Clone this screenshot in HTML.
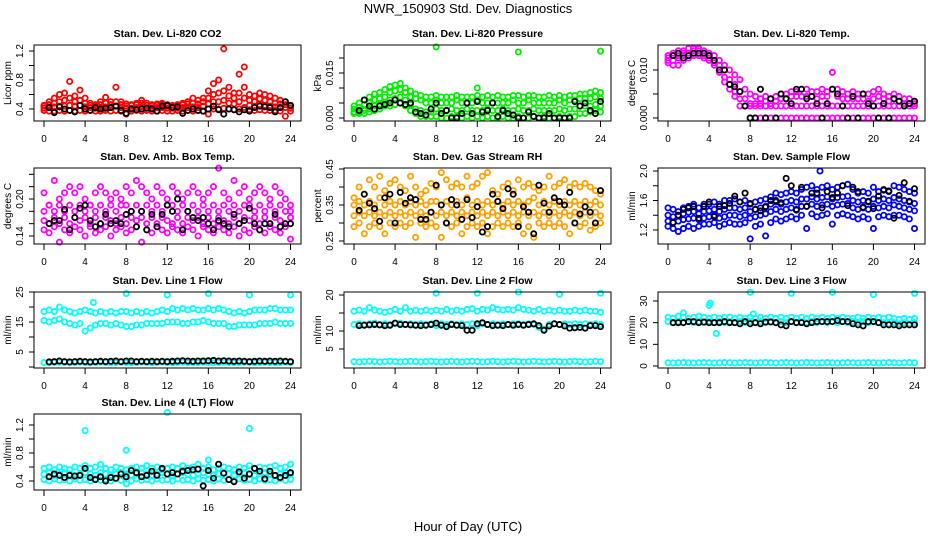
<!DOCTYPE html>
<html><head><meta charset="utf-8"><style>
html,body{margin:0;padding:0;background:#fff;}
svg{display:block;font-family:"Liberation Sans",sans-serif;}
</style></head><body>
<svg id="chart" width="936" height="540" viewBox="0 0 936 540" xmlns="http://www.w3.org/2000/svg">
<text x="468" y="13" text-anchor="middle" font-size="13">NWR_150903  Std. Dev. Diagnostics</text>
<text x="468" y="531" text-anchor="middle" font-size="13">Hour of Day (UTC)</text>
<g id="plots"></g>
</svg>
<script>
// ---- data (colored series at x = 0,0.5,...,24 ; black series at x = 0.5,...,24) ----
const hourTicks=[0,4,8,12,16,20,24];
const co2Hi=[0.45,0.50,0.55,0.60,0.62,0.78,0.58,0.66,0.55,0.48,0.46,0.50,0.56,0.50,0.70,0.50,0.47,0.46,0.48,0.52,0.48,0.46,0.47,0.48,0.46,0.45,0.46,0.48,0.50,0.55,0.52,0.55,0.65,0.75,0.80,1.23,0.70,0.62,0.88,0.98,0.60,0.58,0.62,0.60,0.58,0.55,0.52,0.50,0.45];
const co2A=[0.44,0.46,0.48,0.50,0.52,0.55,0.50,0.52,0.48,0.45,0.44,0.46,0.48,0.46,0.50,0.46,0.44,0.45,0.46,0.48,0.45,0.44,0.45,0.46,0.44,0.44,0.45,0.46,0.47,0.48,0.47,0.50,0.55,0.60,0.62,0.65,0.58,0.55,0.62,0.70,0.52,0.50,0.54,0.52,0.50,0.48,0.47,0.46,0.44];
const co2B=[0.41,0.42,0.43,0.44,0.44,0.45,0.44,0.45,0.43,0.42,0.41,0.42,0.43,0.42,0.44,0.42,0.41,0.41,0.42,0.43,0.42,0.41,0.42,0.42,0.41,0.41,0.41,0.42,0.42,0.43,0.42,0.44,0.47,0.50,0.50,0.52,0.48,0.47,0.50,0.55,0.45,0.44,0.46,0.45,0.44,0.43,0.42,0.42,0.41];
const co2Lo=[0.38,0.37,0.37,0.38,0.37,0.38,0.37,0.38,0.37,0.38,0.37,0.37,0.38,0.37,0.38,0.37,0.33,0.37,0.38,0.37,0.38,0.37,0.37,0.38,0.37,0.37,0.38,0.37,0.38,0.37,0.38,0.37,0.33,0.40,0.40,0.41,0.40,0.39,0.40,0.42,0.39,0.38,0.39,0.38,0.38,0.38,0.37,0.30,0.37];
const co2Black=[0.42,0.35,0.43,0.40,0.38,0.36,0.45,0.40,0.38,0.42,0.40,0.41,0.42,0.44,0.38,0.34,0.40,0.39,0.40,0.41,0.40,0.37,0.44,0.45,0.42,0.43,0.34,0.38,0.40,0.38,0.37,0.40,0.44,0.39,0.33,0.40,0.39,0.36,0.39,0.37,0.42,0.44,0.43,0.42,0.36,0.42,0.50,0.45];
const co2Ticks=[0.4,0.6,0.8,1.0,1.2];
const co2Labels=['0.4','','0.8','','1.2'];
const co2OutX=[];const co2OutY=[];

const presHi=[4,5,6,7,8,8.5,9.5,10.5,11,11.5,10,9,8,7.5,7,7,7.5,7,7,7,7.5,7,7,7,7.5,7,7.5,7,7.5,7,7,7.5,7.5,7,7.5,7.5,7,7,7.5,7,7.5,7,7.5,7.5,8,8,8.5,9,8.5];
const presA=[3,3.5,4.5,5,6,6.5,7,8.5,9,9.5,8.5,7,6.5,6,5,5,6,5,5,5,6,5,5,5,6,5,5,5,5,5,5,6,5,5,6,5,5,5,5,5,6,5,6,6,6.5,6.5,6.5,7,6.5];
const presB=[2,2,2.5,3,4,4.5,5,6,6.5,7,6,4.5,3,2.5,2,2,3,2.5,2.5,3,2.5,2.5,3,2.5,2.5,2.5,3,2.5,2.5,3,2.5,2.5,3,2.5,2.5,3,2.5,2.5,2.5,2.5,3,2.5,3,3,4,4,4,4.5,4];
const presLo=[1.5,1.5,1.5,2,2.5,3,4,4,4.5,5,4,2.5,1.5,0.5,0.5,0.5,0.5,0,0,0.5,0.5,0,0.5,0,0.5,0,0.5,0,0,0.5,0,0,0.5,0,0,0.5,0,0.5,0,0,0.5,0,0.5,0.5,1.5,1.5,2,2.5,2];
const presBlack=[2.5,6,4,3,4,4.5,5,6,5,4.5,5,2,1.5,1,3,5,1.5,2.5,0,0,1.5,5,1.5,5.5,2,2.5,5,0.5,2.5,1.5,1,0,0,2,0.5,0,0,1.5,0,0,0,0,5.5,4,5,2.5,1.5,5.5];
const presTicks=[0,5,10,15,20];
const presLabels=['0.000','','','0.015',''];
const presOutX=[8,12,16,24];const presOutY=[23.7,10,22,22.3];

const tempHi=[13,13.5,14,14,14.5,14.5,14.5,14,13.5,13,12,11,10,9,8,6,5,4.5,4,4.5,4,4.5,5,5,5.5,5.5,6,6,5.5,5.5,6,5.5,9.5,6,5.5,5,5.5,5,5,5,5.5,6,5,4.5,5,4.5,4,4,3.5];
const tempA=[12.5,13,13,13.5,13.5,14,14,13.5,13,12,11,10,8,7,5.5,4,3,3,3,3.5,3,3.5,4,4,4.5,4.5,4.5,4.5,4.5,4,4.5,4.5,6,4.5,4,4,4,4,4,3.5,4,4.5,4,3.5,4,3.5,3,3,3];
const tempB=[12,12,12.5,13,13,13.5,13.5,13,12.5,11.5,10,8.5,7,5.5,4,2.5,2.5,2.5,2.5,2.5,2.5,2.5,2.5,2.5,2.5,2.5,2.5,2.5,2.5,2.5,2.5,2.5,2.5,2.5,2.5,2.5,2.5,2.5,2.5,2.5,2.5,2.5,2.5,2.5,2.5,2.5,2.5,2.5,2.5];
const tempLo=[11.5,11,11,12,12.5,13,13,12.5,12,11,9.5,7.5,6,4.5,2.5,2.5,0,0,0,0,0,0,0,0,0,0,0,0,0,0,0,0,0,0,0,0,0,0,0,0,0,0,0,0,0,0,0,0,0];
const tempBlack=[13,13.5,12.5,13,13.5,13.5,13.5,13,12,10,10,7,6.5,5.5,2.5,0,0,6,0,4,0,5,4,3,6,6,4,4.5,3,0,3,6,5,2.5,0,4.5,0,5,3,2.5,0,3,0,4,3.5,2.5,3,3.5];
const tempTicks=[0,5,10];
const tempLabels=['0.000','','0.010'];
const tempOutX=[];const tempOutY=[];

const ambHi=[0.21,0.19,0.23,0.20,0.21,0.22,0.21,0.22,0.20,0.19,0.21,0.22,0.21,0.20,0.21,0.20,0.22,0.21,0.23,0.22,0.21,0.20,0.22,0.21,0.20,0.22,0.21,0.20,0.21,0.22,0.21,0.20,0.21,0.22,0.25,0.21,0.20,0.23,0.21,0.22,0.20,0.21,0.22,0.21,0.20,0.22,0.21,0.20,0.19];
const ambA=[0.18,0.19,0.18,0.19,0.18,0.19,0.18,0.19,0.18,0.19,0.18,0.19,0.18,0.19,0.18,0.19,0.19,0.18,0.19,0.18,0.19,0.18,0.19,0.18,0.19,0.19,0.18,0.19,0.18,0.19,0.18,0.19,0.18,0.19,0.18,0.19,0.18,0.19,0.18,0.19,0.19,0.18,0.19,0.18,0.19,0.18,0.19,0.18,0.18];
const ambB=[0.165,0.16,0.17,0.16,0.17,0.16,0.17,0.165,0.17,0.16,0.17,0.16,0.17,0.165,0.16,0.17,0.16,0.17,0.165,0.17,0.16,0.17,0.16,0.17,0.165,0.16,0.17,0.16,0.17,0.165,0.17,0.16,0.17,0.16,0.17,0.165,0.16,0.17,0.16,0.17,0.165,0.17,0.16,0.17,0.16,0.17,0.165,0.16,0.17];
const ambLo=[0.15,0.145,0.155,0.13,0.15,0.145,0.155,0.15,0.14,0.155,0.145,0.15,0.155,0.14,0.15,0.155,0.145,0.15,0.155,0.13,0.15,0.145,0.155,0.15,0.145,0.155,0.15,0.145,0.155,0.15,0.14,0.155,0.15,0.145,0.155,0.15,0.145,0.155,0.14,0.15,0.145,0.155,0.15,0.145,0.155,0.15,0.145,0.155,0.135];
const ambBlack=[0.16,0.165,0.165,0.183,0.15,0.17,0.185,0.19,0.165,0.155,0.16,0.175,0.16,0.165,0.16,0.175,0.18,0.155,0.18,0.15,0.175,0.155,0.175,0.19,0.18,0.20,0.15,0.18,0.17,0.165,0.17,0.16,0.15,0.165,0.16,0.155,0.175,0.16,0.165,0.185,0.16,0.15,0.16,0.16,0.175,0.155,0.16,0.16];
const ambTicks=[0.14,0.16,0.18,0.20,0.22,0.24];
const ambLabels=['0.14','','','0.20','',''];
const ambOutX=[];const ambOutY=[];

const rhHi=[0.37,0.40,0.38,0.42,0.40,0.43,0.39,0.41,0.42,0.40,0.39,0.43,0.40,0.38,0.39,0.41,0.40,0.44,0.42,0.40,0.41,0.40,0.43,0.40,0.41,0.43,0.44,0.39,0.38,0.40,0.41,0.39,0.42,0.40,0.41,0.40,0.39,0.40,0.43,0.40,0.41,0.42,0.40,0.41,0.40,0.41,0.40,0.39,0.38];
const rhA=[0.35,0.36,0.35,0.36,0.35,0.37,0.35,0.36,0.35,0.36,0.35,0.36,0.35,0.36,0.35,0.36,0.36,0.35,0.36,0.35,0.36,0.35,0.37,0.35,0.36,0.35,0.36,0.35,0.36,0.35,0.36,0.35,0.36,0.35,0.36,0.37,0.35,0.36,0.35,0.36,0.35,0.36,0.35,0.36,0.35,0.36,0.35,0.36,0.35];
const rhB=[0.32,0.33,0.32,0.33,0.32,0.33,0.32,0.33,0.32,0.33,0.32,0.33,0.32,0.33,0.32,0.33,0.32,0.33,0.32,0.33,0.32,0.33,0.32,0.33,0.32,0.33,0.32,0.33,0.32,0.33,0.32,0.33,0.32,0.33,0.32,0.33,0.32,0.33,0.32,0.33,0.32,0.33,0.32,0.33,0.32,0.33,0.32,0.33,0.32];
const rhLo=[0.29,0.30,0.27,0.29,0.30,0.29,0.27,0.30,0.29,0.30,0.29,0.30,0.26,0.30,0.29,0.30,0.29,0.26,0.30,0.29,0.30,0.27,0.29,0.30,0.29,0.30,0.27,0.29,0.30,0.29,0.30,0.29,0.30,0.27,0.29,0.26,0.30,0.29,0.30,0.29,0.30,0.29,0.27,0.30,0.29,0.30,0.28,0.29,0.30];
const rhBlack=[0.335,0.38,0.355,0.34,0.305,0.37,0.38,0.30,0.385,0.355,0.37,0.365,0.31,0.31,0.33,0.405,0.35,0.30,0.365,0.35,0.31,0.365,0.315,0.345,0.275,0.29,0.38,0.36,0.34,0.395,0.38,0.29,0.345,0.33,0.27,0.405,0.355,0.33,0.37,0.36,0.35,0.385,0.30,0.325,0.345,0.33,0.30,0.39];
const rhTicks=[0.25,0.30,0.35,0.40,0.45];
const rhLabels=['0.25','','0.35','','0.45'];
const rhOutX=[];const rhOutY=[];

const flowHi=[1.50,1.48,1.45,1.50,1.52,1.55,1.50,1.55,1.55,1.58,1.55,1.60,1.60,1.62,1.58,1.60,1.55,1.58,1.60,1.62,1.65,1.70,1.68,1.70,1.72,1.70,1.75,1.78,1.80,1.75,1.78,1.80,1.75,1.78,1.80,1.82,1.75,1.70,1.72,1.70,1.78,1.72,1.75,1.72,1.80,1.78,1.75,1.72,1.70];
const flowA=[1.40,1.38,1.40,1.42,1.44,1.45,1.42,1.45,1.46,1.48,1.45,1.48,1.50,1.50,1.48,1.50,1.45,1.48,1.50,1.52,1.55,1.58,1.55,1.58,1.60,1.58,1.62,1.62,1.65,1.62,1.64,1.65,1.62,1.64,1.65,1.66,1.60,1.58,1.60,1.58,1.62,1.60,1.62,1.60,1.64,1.62,1.60,1.58,1.56];
const flowB=[1.32,1.30,1.32,1.34,1.35,1.36,1.34,1.36,1.38,1.40,1.36,1.38,1.40,1.40,1.38,1.40,1.36,1.38,1.40,1.42,1.45,1.48,1.45,1.48,1.50,1.48,1.52,1.52,1.55,1.52,1.54,1.55,1.52,1.54,1.55,1.56,1.50,1.48,1.50,1.48,1.52,1.50,1.52,1.50,1.54,1.52,1.50,1.48,1.46];
const flowLo=[1.25,1.22,1.18,1.22,1.25,1.22,1.25,1.28,1.28,1.30,1.25,1.28,1.30,1.28,1.28,1.30,1.08,1.25,1.28,1.12,1.30,1.35,1.32,1.35,1.38,1.35,1.40,1.22,1.42,1.38,1.40,1.42,1.28,1.40,1.42,1.40,1.38,1.35,1.38,1.35,1.22,1.38,1.40,1.38,1.40,1.40,1.38,1.35,1.22];
const flowBlack=[1.30,1.40,1.48,1.50,1.52,1.36,1.52,1.58,1.38,1.52,1.53,1.56,1.66,1.58,1.70,1.56,1.48,1.46,1.51,1.60,1.60,1.57,1.90,1.80,1.47,1.78,1.52,1.70,1.70,1.50,1.72,1.64,1.70,1.80,1.53,1.78,1.72,1.51,1.59,1.49,1.66,1.74,1.73,1.36,1.67,1.84,1.59,1.76];
const flowTicks=[1.2,1.4,1.6,1.8,2.0];
const flowLabels=['1.2','','1.6','','2.0'];
const flowOutX=[14.8];const flowOutY=[2.0];

const l1Hi=[18.5,19,18.5,20,19,18.5,18,18.5,19,18.5,18,18.5,18,18.5,18,18.5,18.5,18,18.5,18,18.5,18,18.5,19,18.5,19.5,19,19.5,19,19.5,19,19,19.5,19,19.5,19,18.5,18,18.5,18,18.5,19,19,19,19.5,19.5,19,19,19];
const l1Mid=[15.5,15,15.5,16,15,14.5,14,14.5,12,13,14,14.5,14.5,14,14.5,14,13.5,13.5,14,14,14.5,14.5,14.5,14.5,15,15,15,14.5,14.5,15,15,15.5,15,14.5,14.5,14.5,13.5,13.5,14,14,14,14,14.5,14.5,14.5,15,14.5,14.5,14.5];
const l1Lo=[1.5,1.4,1.5,1.6,1.5,1.4,1.5,1.6,1.5,1.4,1.5,1.6,1.5,1.4,1.5,1.6,1.5,1.4,1.5,1.6,1.5,1.4,1.5,1.6,1.5,1.4,1.5,1.6,1.5,1.4,1.5,1.6,1.5,1.4,1.5,1.6,1.5,1.4,1.5,1.6,1.5,1.4,1.5,1.6,1.5,1.4,1.5,1.6,1.5];
const l1Black=[1.7,1.8,2.0,1.8,1.7,1.8,1.9,1.8,1.7,1.8,1.9,1.8,1.9,2.0,1.8,2.0,2.0,1.8,1.9,1.8,1.9,1.8,1.9,1.8,1.9,2.0,2.1,2.0,1.9,2.0,2.0,2.1,2.2,2.0,2.1,2.0,1.9,2.0,1.9,1.8,1.9,2.0,1.9,2.0,1.9,2.0,1.9,1.8];
const l1Ticks=[0,5,10,15,20,25];
const l1Labels=['','5','','15','','25'];
const l1OutX=[4.8,8,12,16,20,24];const l1OutY=[21.5,24.5,24,24.5,24,24];

const l2Hi=[15.5,15.8,15.5,16.5,15.8,15.5,15.2,15.5,16,15.5,16.5,15.5,15.8,15.5,15.8,15.5,15.8,15.5,16,15.5,15.8,15.5,16,16.2,15.5,16,15.8,16.5,16,15.8,16,15.8,16.5,16,15.8,15.5,16,15.5,15.8,15.5,15.8,15.5,15.5,15.8,15.5,15.8,15.5,15.5,15.2];
const l2Mid=[11.8,12,11.8,12,12.2,11.8,12,11.8,12,12.2,11.8,12,11.8,12,11.8,12,11.5,12,11.8,12,11.8,12,11.8,12,11.5,12,11.8,12,11.8,12,11.8,12,12,11.8,12,11.8,11,10.5,11.8,12,11.8,12,11.8,12,11.8,12,11.8,12,11.8];
const l2Lo=[1.5,1.4,1.5,1.6,1.5,1.4,1.5,1.6,1.5,1.4,1.5,1.6,1.5,1.4,1.5,1.6,1.5,1.4,1.5,1.6,1.5,1.4,1.5,1.6,1.5,1.4,1.5,1.6,1.5,1.4,1.5,1.6,1.5,1.4,1.5,1.6,1.5,1.4,1.5,1.6,1.5,1.4,1.5,1.6,1.5,1.4,1.5,1.6,1.5];
const l2Black=[11.5,11.6,11.7,11.8,11.7,11.5,11.6,12.2,11.8,11.8,11.7,11.6,11.5,11.6,11.8,12.2,11.6,11.2,11.8,11.6,11.5,10.2,10.2,12,12.3,11.8,11.5,11.6,11.5,11.8,11.6,11.8,11.6,11.8,12,11.5,10.2,11.4,12,11.8,11.4,10.8,10.9,11,10.8,11.5,11.5,11.2];
const l2Ticks=[5,10,15,20];
const l2Labels=['5','10','','20'];
const l2OutX=[8,12,16,20,24];const l2OutY=[20.5,20.5,20.8,20.2,20.5];

const l3Hi=[22.5,22,23,22.5,22,22.5,23,22.5,22,22.5,22,22.5,22.5,22,22.5,22,22.5,22,22.5,22,22.5,22,22.5,22,22.5,22,22.5,22,22.5,22,22.5,22,22.5,22,22.5,22,22,22.5,22,22.5,22,22.5,22,22.5,22,21.5,22,21.5,22];
const l3Mid=[20.5,20,20.5,20,20.5,20,20.5,20,20.5,20,20.5,20,20.5,20,20.5,20,20.5,20,20.5,20,20.5,20,20.5,20,20.5,20,20.5,20,20.5,20,20.5,20,20.5,20,20.5,20,20.5,20,20.5,20,20.5,20,20,19.5,20,19.5,20,19.5,20];
const l3Lo=[1.5,1.4,1.5,1.6,1.5,1.4,1.5,1.6,1.5,1.4,1.5,1.6,1.5,1.4,1.5,1.6,1.5,1.4,1.5,1.6,1.5,1.4,1.5,1.6,1.5,1.4,1.5,1.6,1.5,1.4,1.5,1.6,1.5,1.4,1.5,1.6,1.5,1.4,1.5,1.6,1.5,1.4,1.5,1.6,1.5,1.4,1.5,1.6,1.5];
const l3Black=[20,20,20,20.5,20.5,20,20.3,20,20,20,20.5,20,20,19.5,20.5,19.5,20,19.5,20.3,20.3,20,19,18.5,20.5,20,20,19.5,20,20.5,20.5,20.5,20.5,21,20.5,20.5,19.5,19,18.5,20.5,20.5,20,19,19,19,18.5,19,19,19];
const l3Ticks=[0,10,20,30];
const l3Labels=['0','10','20','30'];
const l3OutX=[1.5,4,4.1,4.7,8,8.3,12,16,20,24];const l3OutY=[24.5,28,29,15,34,24,33.5,34,33,33.5];

const l4Hi=[0.58,0.60,0.56,0.60,0.58,0.56,0.60,0.58,0.62,0.58,0.60,0.64,0.58,0.56,0.60,0.58,0.56,0.58,0.60,0.58,0.62,0.58,0.60,0.56,0.58,0.60,0.58,0.62,0.58,0.60,0.64,0.58,0.60,0.56,0.58,0.60,0.58,0.56,0.60,0.58,0.62,0.58,0.60,0.58,0.60,0.62,0.58,0.60,0.64];
const l4Mid=[0.50,0.52,0.48,0.50,0.52,0.50,0.48,0.50,0.52,0.50,0.48,0.52,0.50,0.48,0.50,0.52,0.50,0.48,0.50,0.52,0.50,0.48,0.50,0.52,0.50,0.48,0.50,0.52,0.50,0.48,0.50,0.52,0.50,0.48,0.50,0.52,0.50,0.48,0.50,0.52,0.50,0.48,0.50,0.52,0.50,0.48,0.50,0.52,0.50];
const l4Lo=[0.42,0.40,0.43,0.41,0.42,0.40,0.43,0.41,0.42,0.40,0.43,0.41,0.42,0.40,0.43,0.41,0.36,0.40,0.43,0.41,0.42,0.40,0.43,0.41,0.42,0.40,0.43,0.41,0.42,0.40,0.43,0.41,0.42,0.40,0.43,0.41,0.42,0.40,0.43,0.41,0.42,0.40,0.43,0.41,0.42,0.40,0.43,0.41,0.42];
const l4Black=[0.46,0.50,0.48,0.45,0.48,0.47,0.48,0.58,0.45,0.42,0.46,0.40,0.45,0.44,0.50,0.46,0.55,0.52,0.46,0.48,0.54,0.48,0.58,0.50,0.52,0.50,0.54,0.55,0.56,0.57,0.33,0.55,0.44,0.64,0.51,0.42,0.39,0.53,0.44,0.50,0.58,0.54,0.43,0.54,0.48,0.45,0.48,0.52];
const l4Ticks=[0.4,0.6,0.8,1.0,1.2];
const l4Labels=['0.4','','0.8','','1.2'];
const l4OutX=[4,8,12,16,20];const l4OutY=[1.12,0.84,1.38,0.70,1.15];

// ---- layout ----
const colLeft=[34,344,658];
const rowTop=[45,168,292,414];
const BOXW=267, BOXH=76;
const panels=[
 {name:'co2',title:'Stan. Dev. Li-820 CO2',ylab:'Licor ppm',c:0,r:0,ref:[0.4,109,1.2,51],color:'#ff0000',series:[co2Hi,co2A,co2B,co2Lo],black:co2Black,ticks:co2Ticks,labels:co2Labels,ox:co2OutX,oy:co2OutY},
 {name:'pressure',title:'Stan. Dev. Li-820 Pressure',ylab:'kPa',c:1,r:0,ref:[0,118,20,58],color:'#00ee00',series:[presHi,presA,presB,presLo],black:presBlack,ticks:presTicks,labels:presLabels,ox:presOutX,oy:presOutY},
 {name:'li820-temp',title:'Stan. Dev. Li-820 Temp.',ylab:'degrees C',c:2,r:0,ref:[0,118,10,70],color:'#ff00ff',series:[tempHi,tempA,tempB,tempLo],black:tempBlack,ticks:tempTicks,labels:tempLabels,ox:tempOutX,oy:tempOutY},
 {name:'amb-box-temp',title:'Stan. Dev. Amb. Box Temp.',ylab:'degrees C',c:0,r:1,ref:[0.14,236,0.20,199],color:'#ff00ff',series:[ambHi,ambA,ambB,ambLo],black:ambBlack,ticks:ambTicks,labels:ambLabels,ox:ambOutX,oy:ambOutY},
 {name:'gas-stream-rh',title:'Stan. Dev. Gas Stream RH',ylab:'percent',c:1,r:1,ref:[0.25,241,0.45,169],color:'#ffa000',series:[rhHi,rhA,rhB,rhLo],black:rhBlack,ticks:rhTicks,labels:rhLabels,ox:rhOutX,oy:rhOutY},
 {name:'sample-flow',title:'Stan. Dev. Sample Flow',ylab:'ml/min',c:2,r:1,ref:[1.2,230,2.0,171],color:'#0000ff',series:[flowHi,flowA,flowB,flowLo],black:flowBlack,ticks:flowTicks,labels:flowLabels,ox:flowOutX,oy:flowOutY},
 {name:'line1-flow',title:'Stan. Dev. Line 1 Flow',ylab:'ml/min',c:0,r:2,ref:[0,367,25,292],color:'#00ffff',series:[l1Hi,l1Mid,l1Lo],black:l1Black,ticks:l1Ticks,labels:l1Labels,ox:l1OutX,oy:l1OutY},
 {name:'line2-flow',title:'Stan. Dev. Line 2 Flow',ylab:'ml/min',c:1,r:2,ref:[0,367,20,295],color:'#00ffff',series:[l2Hi,l2Mid,l2Lo],black:l2Black,ticks:l2Ticks,labels:l2Labels,ox:l2OutX,oy:l2OutY},
 {name:'line3-flow',title:'Stan. Dev. Line 3 Flow',ylab:'ml/min',c:2,r:2,ref:[0,366,30,301],color:'#00ffff',series:[l3Hi,l3Mid,l3Lo],black:l3Black,ticks:l3Ticks,labels:l3Labels,ox:l3OutX,oy:l3OutY},
 {name:'line4-flow',title:'Stan. Dev. Line 4 (LT) Flow',ylab:'ml/min',c:0,r:3,ref:[0.4,481,1.2,425],color:'#00ffff',series:[l4Hi,l4Mid,l4Lo],black:l4Black,ticks:l4Ticks,labels:l4Labels,ox:l4OutX,oy:l4OutY}
];
const NS='http://www.w3.org/2000/svg';
const root=document.getElementById('plots');
function mk(tag,attrs,parent){const e=document.createElementNS(NS,tag);for(const k in attrs)e.setAttribute(k,attrs[k]);parent.appendChild(e);return e;}
panels.forEach(p=>{
  const L=colLeft[p.c],T=rowTop[p.r],B=T+BOXH;
  const xs=h=>L+10+h*(246.5/24);
  const ys=v=>p.ref[1]+(v-p.ref[0])*(p.ref[3]-p.ref[1])/(p.ref[2]-p.ref[0]);
  const g=mk('g',{},root);
  
  
  const t=mk('text',{x:L+BOXW/2,y:T-8,'text-anchor':'middle','font-size':'10.5','font-weight':'bold'},g);
  t.textContent=p.title;
  
  
  const yl=mk('text',{transform:`translate(${L-23},${(T+B)/2}) rotate(-90)`,'text-anchor':'middle','font-size':'10'},g);
  yl.textContent=p.ylab;
  
  
  const pts=mk('g',{fill:'none','stroke-width':'1.8'},g);
  
  
  p.series.forEach(arr=>{arr.forEach((v,i)=>{
    const c=mk('circle',{cx:xs(i*0.5),cy:ys(v),r:2.6,stroke:p.color},pts);
    
    
  });});
  p.ox.forEach((h,i)=>{
    const c=mk('circle',{cx:xs(h),cy:ys(p.oy[i]),r:2.6,stroke:p.color},pts);
    
    
  });
  p.black.forEach((v,i)=>{
    const c=mk('circle',{cx:xs((i+1)*0.5),cy:ys(v),r:2.6,stroke:'#000'},pts);
    
    
  });
  const box=mk('rect',{x:L,y:T,width:BOXW,height:BOXH,fill:'none',stroke:'#000','stroke-width':'1'},g);
  
  
  hourTicks.forEach(h=>{
    const x=xs(h);
    mk('line',{x1:x,x2:x,y1:B,y2:B+6,stroke:'#000'},g);
    const tl=mk('text',{x:x,y:B+21,'text-anchor':'middle','font-size':'10'},g);
    tl.textContent=String(h);
    
    
  });
  p.ticks.forEach((v,i)=>{
    const y=ys(v);
    mk('line',{x1:L-5,x2:L,y1:y,y2:y,stroke:'#000'},g);
    if(p.labels[i]){
      const tl=mk('text',{transform:`translate(${L-11},${y}) rotate(-90)`,'text-anchor':'middle','font-size':'10'},g);
      tl.textContent=p.labels[i];
      
      
    }
  });
});
</script>
</body></html>
